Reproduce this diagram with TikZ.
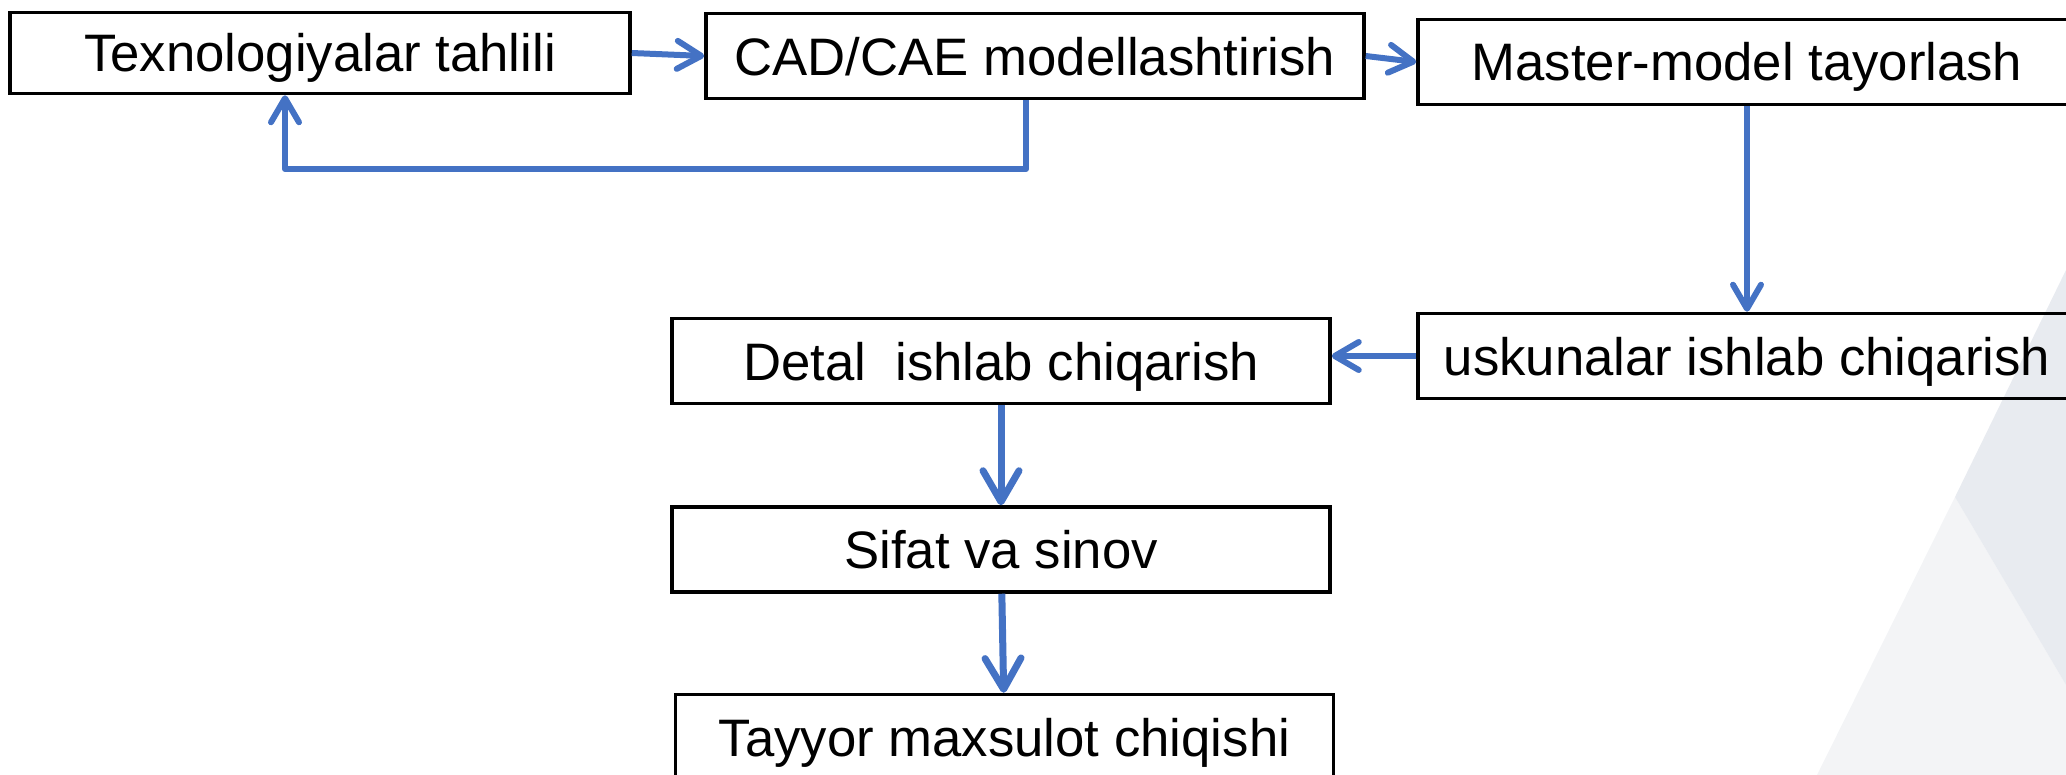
\documentclass[tikz,border=0pt]{standalone}
\usepackage{fontspec}
\setmainfont{Liberation Sans}
\usepackage{tikz}
\usetikzlibrary{arrows.meta,calc,positioning,shapes}
\definecolor{linkblue}{HTML}{4472C4}
\definecolor{shadeA}{HTML}{E8EBF0}
\definecolor{shadeB}{HTML}{F3F4F6}
\tikzset{%
	process/.style  = {draw, rectangle, line width=0.07cm, minimum width=13.16cm, minimum height=1.7cm, text height=0.76cm, text depth=0cm, text centered, font=\fontsize{30}{36}\selectfont},
	waypoint/.style = {coordinate}, % Corner
	arrow/.style    = {linkblue, line width=0.12cm, line join=round, -{Straight Barb[length=0.48cm,width=0.56cm,round]}},
	bigarrow/.style = {arrow, line width=0.14cm, -{Straight Barb[length=0.62cm,width=0.72cm,round]}},
}

\begin{document}
\begin{tikzpicture}[node distance=14.3cm]
	\useasboundingbox (0,0) rectangle (41.32,-15.5);
	% backdrop
	\fill[shadeB] (39.10,-9.94) -- (36.34,-15.5) -- (41.32,-15.5) -- (41.32,-13.7) -- cycle;
	\fill[shadeA] (41.32,-5.4) -- (39.10,-9.94) -- (41.32,-13.7) -- cycle;

	\node[process, minimum width=12.4cm, minimum height=1.62cm] (Tahlil) at (6.40,-1.06) {Texnologiyalar tahlili};
	\node[process, right of=Tahlil, yshift=-0.06cm] (CAD) {CAD/CAE modellashtirish};
	\node[process, right of=CAD, node distance=14.24cm, yshift=-0.12cm] (Master) {Master-model tayorlash};
	\node[process, below of=Master, node distance=5.88cm] (Uskuna) {uskunalar ishlab chiqarish};
	\node[process, left of=Uskuna, node distance=14.92cm, yshift=-0.10cm] (Detal) {Detal~ ishlab chiqarish};
	\node[process, below of=Detal, node distance=3.77cm] (Sifat) {Sifat va sinov};
	\node[process, below of=Sifat, node distance=3.75cm, xshift=0.07cm] (Tayyor) {Tayyor maxsulot chiqishi};
	\node[waypoint, below of=CAD, node distance=2.26cm, xshift=-0.18cm] (wpCAD) {};
	\node[waypoint, left of=wpCAD, node distance=14.82cm] (wpTahlil) {};

	\draw[arrow] (Tahlil.east) -- (CAD.west);
	\draw[arrow] (CAD.east) -- (Master.west);
	\draw[arrow] ([xshift=-0.18cm]CAD.south) -- (wpCAD) -- (wpTahlil) -- (wpTahlil |- Tahlil.south);
	\draw[arrow] (Master) -- (Uskuna);
	\draw[arrow] (Uskuna.west) -- (Uskuna.west -| Detal.east);
	\draw[bigarrow] (Detal) -- (Sifat);
	\draw[bigarrow] (Sifat) -- (Tayyor);
\end{tikzpicture}
\end{document}
